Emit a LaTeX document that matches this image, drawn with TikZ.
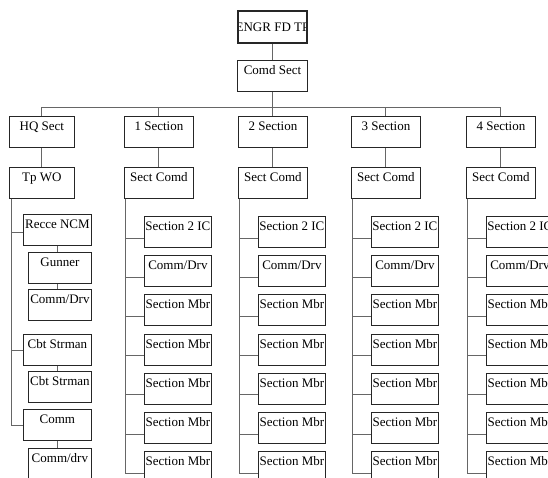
\documentclass[tikz,border=0pt]{standalone}
\usepackage{fontspec}
\setmainfont{Liberation Serif}
\usetikzlibrary{positioning}

\begin{document}
\begin{tikzpicture}[x=1pt, y=-1pt,
    box/.style={draw=black!85, line width=0.8pt, rectangle, inner xsep=0pt, inner ysep=0pt,
        minimum width=69pt, text height=14pt, text depth=17pt, font=\fontsize{13}{15}\selectfont},
    link/.style={draw=black!60, line width=0.9pt}]
        \useasboundingbox (0,0) rectangle (548,477);
        \clip (0,0) rectangle (548,477);

        % top of the tree
        \node (engr) [box, minimum height=32pt, line width=2.2pt,
            path picture={\node[inner sep=0pt, text height=8.7pt, text depth=0pt, font=\fontsize{13}{15}\selectfont]
                at (path picture bounding box.center) {ENGR FD TP};}] at (272.5,27) {};
        \node (comd) [box, minimum width=70pt, below=16pt of engr] {Comd Sect};
        \coordinate (bus) at (272.5,107);
        \draw[link] (engr) -- (comd);
        \draw[link] (comd) -- (bus);

        % HQ column
        \node (hq) [box, minimum width=65pt, anchor=north west] at (9,116) {HQ Sect};
        \node (tpwo) [box, minimum width=65pt, below=19pt of hq] {Tp WO};
        \draw[link] (hq.north) |- (bus);
        \draw[link] (hq) -- (tpwo);

        \node (recce) [box, minimum width=68pt, anchor=north west] at (23,214) {Recce NCM};
        \node (gunner) [box, minimum width=63pt, anchor=north west] at (28,252) {Gunner};
        \node (hqdrv) [box, minimum width=63pt, anchor=north west] at (28,289) {Comm/Drv};
        \node (cbt) [box, minimum width=68pt, anchor=north west] at (23,334) {Cbt Strman};
        \node (cbtb) [box, minimum width=63pt, anchor=north west] at (28,371) {Cbt Strman};
        \node (comm) [box, minimum width=68pt, anchor=north west] at (23,409) {Comm};
        \node (commdrv) [box, minimum width=63pt, anchor=north west] at (28,448) {Comm/drv};

        \draw[link] ([xshift=2pt]tpwo.south west) |- ([yshift=-18pt]recce.north west);
        \draw[link] ([xshift=2pt]tpwo.south west) |- ([yshift=-16pt]cbt.north west);
        \draw[link] ([xshift=2pt]tpwo.south west) |- ([yshift=-16pt]comm.north west);
        \draw[link] (recce.south) -- (recce.south |- gunner.north);
        \draw[link] (gunner.south -| recce.south) -- (recce.south |- hqdrv.north);
        \draw[link] (cbt.south) -- (cbt.south |- cbtb.north);
        \draw[link] (comm.south) -- (comm.south |- commdrv.north);

        % the four sections
        \foreach \n/\x in {1/124, 2/238, 3/351, 4/466} {
            \node (sec\n) [box, anchor=north west] at (\x,116) {\n\ Section};
            \node (cmd\n) [box, below=19pt of sec\n] {Sect Comd};
            \draw[link] (sec\n.north) |- (bus);
            \draw[link] (sec\n) -- (cmd\n);
            \foreach \i in {1,...,7} {
                \node (m\n-\i) [box, minimum width=67pt, anchor=north west] at ({\x+20},{216+39.2*(\i-1)})
                    {\ifcase\i\or Section 2 IC\or Comm/Drv\else Section Mbr\fi};
                \draw[link] ([xshift=1.5pt]cmd\n.south west) |- ([yshift=-22pt]m\n-\i.north west);
            }
        }
    \end{tikzpicture}
\end{document}
